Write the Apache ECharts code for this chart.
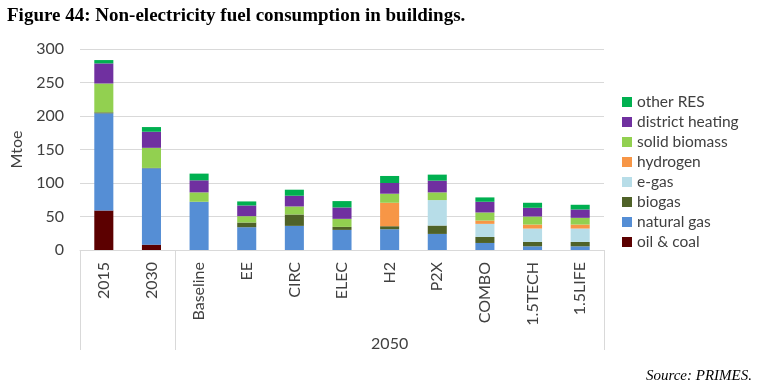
<!DOCTYPE html>
<html>
<head>
<meta charset="utf-8">
<script src="https://cdn.jsdelivr.net/npm/echarts@6/dist/echarts.min.js"></script>
<style>html,body{margin:0;padding:0;background:#fff;}#c{width:763px;height:387px;}</style>
</head>
<body>
<div id="c"></div>
<script>
const categories = ['2015','2030','Baseline','EE','CIRC','ELEC','H2','P2X','COMBO','1.5TECH','1.5LIFE'];
const groupLabels = ['','','','','','','2050','','','',''];
const oilCoal       = [59, 8, 0, 0, 0, 0, 0, 0, 0, 0, 0];
const naturalGas    = [145, 114, 72, 34, 36, 30, 31, 24, 10.5, 5.5, 5.5];
const biogas        = [1.5, 0.5, 0, 7, 17, 4.5, 4.5, 12.5, 9, 6.5, 6.5];
const eGas          = [0, 0, 0, 0, 0, 0, 0, 38, 19.5, 20, 20];
const hydrogen      = [0, 0, 0, 0, 0, 0, 35, 0, 5, 6, 6];
const solidBiomass  = [43, 30, 14, 9.5, 12, 12, 13.5, 11.5, 12, 12, 10];
const districtHeat  = [30, 24, 18, 16, 16, 17, 16, 17.5, 16, 13, 12.5];
const otherRES      = [5, 7, 10, 6, 9, 9.5, 10.5, 9, 6.5, 7.5, 7];
const yTicks = {min: 0, max: 300, interval: 50};

const seriesDefs = [
  ['oil & coal', oilCoal, '#5c0000'],
  ['natural gas', naturalGas, '#558ed5'],
  ['biogas', biogas, '#4f6228'],
  ['e-gas', eGas, '#b7dde8'],
  ['hydrogen', hydrogen, '#f79646'],
  ['solid biomass', solidBiomass, '#92d050'],
  ['district heating', districtHeat, '#7030a0'],
  ['other RES', otherRES, '#00b050']
];
const font = 'Lato, "Open Sans", sans-serif';
const chart = echarts.init(document.getElementById('c'), null, {renderer: 'canvas'});
chart.setOption({
  animation: false,
  title: [{
    text: 'Figure 44: Non-electricity fuel consumption in buildings.',
    left: 2, top: 2,
    textStyle: {fontFamily: '"Liberation Serif", serif', fontWeight: 'bold', fontSize: 19, color: '#000'}
  }, {
    text: 'Source: PRIMES.',
    right: 6, top: 364,
    textStyle: {fontFamily: '"Liberation Serif", serif', fontStyle: 'italic', fontWeight: 'normal', fontSize: 15, color: '#000'}
  }],
  legend: {
    orient: 'vertical', left: 622, top: 94, padding: 0,
    itemWidth: 10, itemHeight: 10, itemGap: 4,
    data: seriesDefs.map(s => s[0]).reverse(),
    textStyle: {fontFamily: font, fontSize: 15.5, color: '#404040', lineHeight: 15},
    icon: 'rect'
  },
  grid: {left: 80, right: 159, top: 49, bottom: 137},
  xAxis: [{
    type: 'category', data: categories, gridIndex: 0, position: 'bottom',
    axisLine: {show: true, lineStyle: {color: '#d9d9d9'}},
    axisTick: {show: true, interval: function(i){ return i === 0 || i === 2; }, length: 100, lineStyle: {color: '#d9d9d9'}},
    axisLabel: {rotate: 90, interval: 0, margin: 12, fontFamily: font, fontSize: 16, color: '#404040'}
  }, {
    type: 'category', data: groupLabels, gridIndex: 0, position: 'bottom', offset: 86,
    axisLine: {show: false}, axisTick: {show: false},
    axisLabel: {interval: 0, margin: 0, fontFamily: font, fontSize: 16, color: '#404040'}
  }],
  yAxis: {
    type: 'value', min: yTicks.min, max: yTicks.max, interval: yTicks.interval,
    name: 'Mtoe', nameLocation: 'middle', nameGap: 50,
    nameTextStyle: {fontFamily: font, fontSize: 16, color: '#404040'},
    axisLine: {show: false}, axisTick: {show: false},
    axisLabel: {fontFamily: font, fontSize: 16, color: '#404040', margin: 16},
    splitLine: {lineStyle: {color: '#d9d9d9'}}
  },
  series: seriesDefs.map(s => ({
    name: s[0], type: 'bar', stack: 'total', data: s[1], xAxisIndex: 0,
    barWidth: '40%', itemStyle: {color: s[2]}
  }))
});
</script>
</body>
</html>
